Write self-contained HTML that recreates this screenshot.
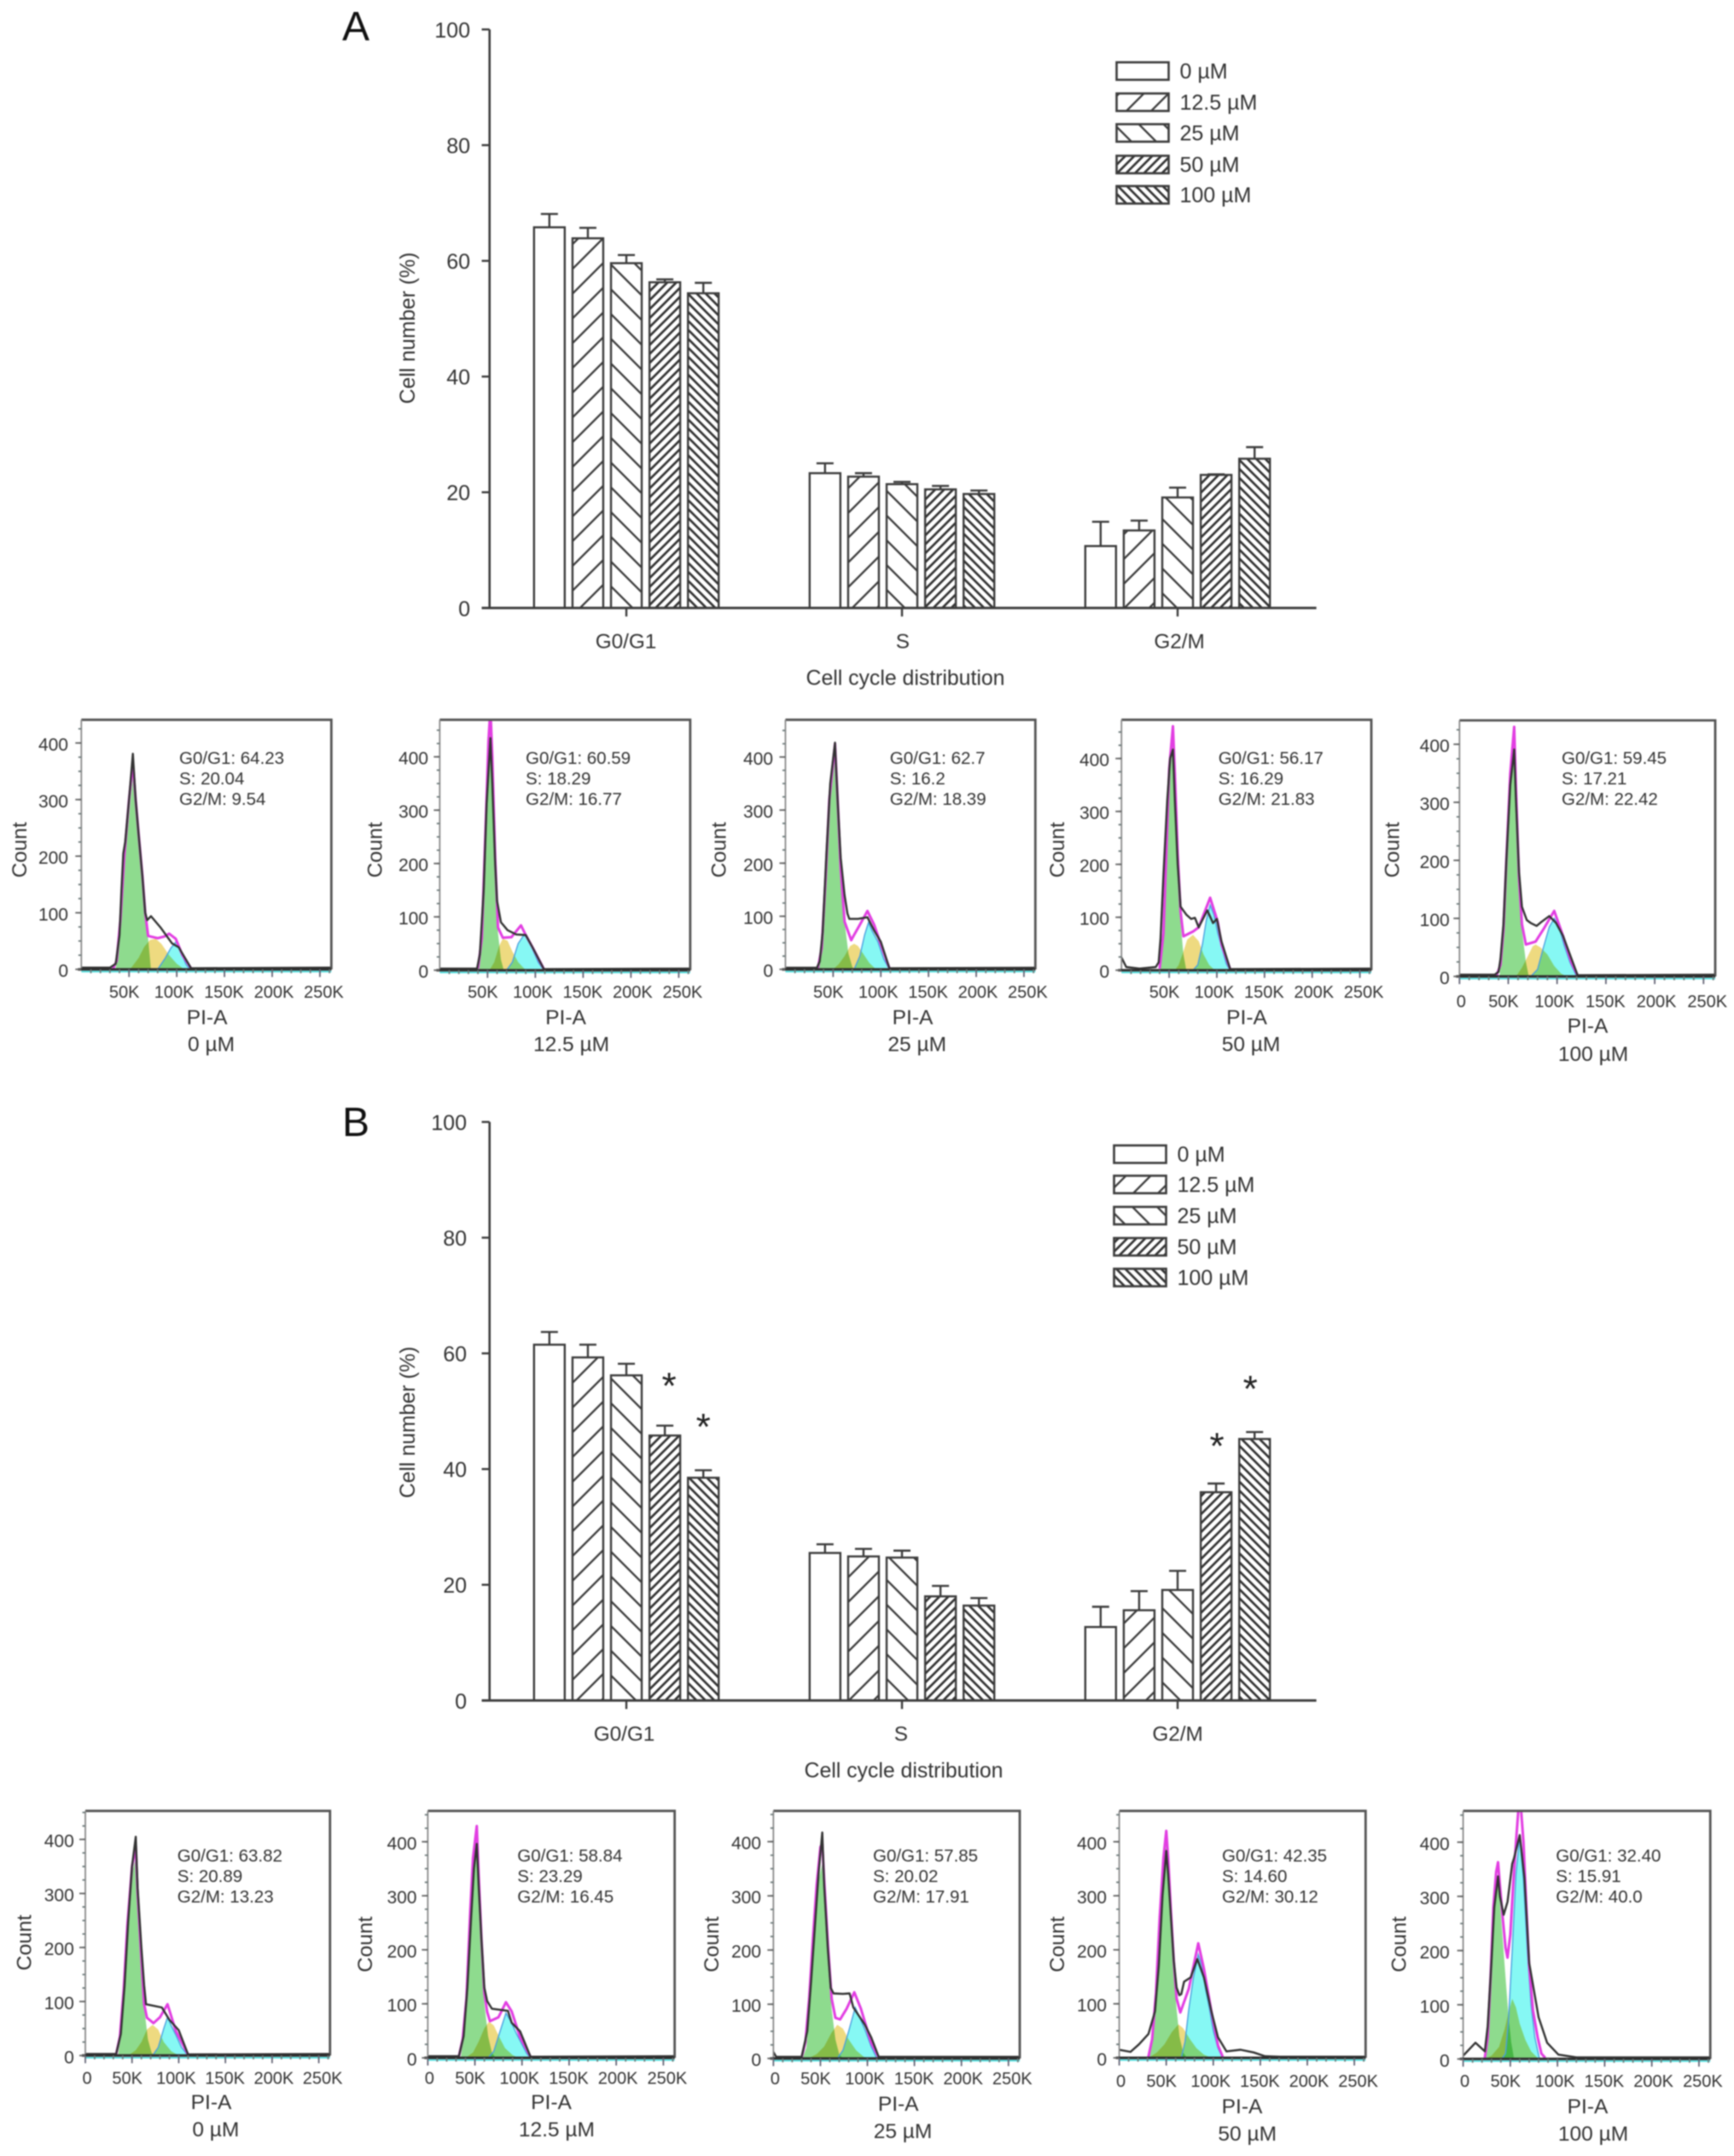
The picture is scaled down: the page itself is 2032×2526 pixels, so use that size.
<!DOCTYPE html>
<html lang="en">
<head>
<meta charset="utf-8">
<title>Cell cycle distribution</title>
<style>
html,body{margin:0;padding:0;background:#fff;}
#figure{display:block;width:2032px;height:2526px;filter:blur(0.85px);font-family:"Liberation Sans",Arial,sans-serif;}
text{fill:#333;font-family:"Liberation Sans",Arial,sans-serif;}
.blend{mix-blend-mode:multiply;}
</style>
</head>
<body>
<svg id="figure" xmlns="http://www.w3.org/2000/svg" width="2032" height="2526" viewBox="0 0 2032 2526">
<defs>
<pattern id="hatch-wide-up" patternUnits="userSpaceOnUse" width="29" height="29"><rect width="29" height="29" fill="#fff"/><path d="M-7,7 L7,-7 M0,29 L29,0 M22,36 L36,22" stroke="#3c3c3c" stroke-width="2.3" fill="none"/></pattern>
<pattern id="hatch-wide-down" patternUnits="userSpaceOnUse" width="29" height="29"><rect width="29" height="29" fill="#fff"/><path d="M-7,22 L7,36 M0,0 L29,29 M22,-7 L36,7" stroke="#3c3c3c" stroke-width="2.3" fill="none"/></pattern>
<pattern id="hatch-dense-up" patternUnits="userSpaceOnUse" width="10.5" height="10.5"><rect width="10.5" height="10.5" fill="#fff"/><path d="M-3,3 L3,-3 M0,10.5 L10.5,0 M7.5,13.5 L13.5,7.5" stroke="#333" stroke-width="2.7" fill="none"/></pattern>
<pattern id="hatch-dense-down" patternUnits="userSpaceOnUse" width="10.5" height="10.5"><rect width="10.5" height="10.5" fill="#fff"/><path d="M-3,7.5 L3,13.5 M0,0 L10.5,10.5 M7.5,-3 L13.5,3" stroke="#333" stroke-width="2.7" fill="none"/></pattern>
</defs>
</svg>
<script>
// ---------- Bar chart data ----------
const barCategories = ['G0/G1', 'S', 'G2/M'];
const barDoses = ['0 µM', '12.5 µM', '25 µM', '50 µM', '100 µM'];
const barYTicks = [0, 20, 40, 60, 80, 100];
const panelAMeans = [[65.8, 63.9, 59.6, 56.3, 54.4], [23.3, 22.7, 21.4, 20.5, 19.7], [10.7, 13.4, 19.1, 23.0, 25.8]];
const panelAUpper = [[68.1, 65.7, 61.0, 56.8, 56.2], [25.0, 23.3, 21.8, 21.1, 20.3], [14.9, 15.1, 20.8, 23.1, 27.8]];
const panelBMeans = [[61.5, 59.3, 56.2, 45.8, 38.5], [25.5, 24.9, 24.7, 18.0, 16.4], [12.7, 15.6, 19.1, 36.0, 45.2]];
const panelBUpper = [[63.7, 61.5, 58.2, 47.5, 39.8], [27.0, 26.2, 25.9, 19.8, 17.7], [16.2, 18.9, 22.4, 37.5, 46.4]];
const panelBStarGroups = [0, 0, 2, 2];
const panelBStarDoses = [3, 4, 3, 4];
const panelBStarValues = [55.3, 48.2, 44.9, 54.8];

// ---------- Histogram data: [PI-A in K, count] ----------
const histCountTicks = [0, 100, 200, 300, 400];
const histPiTicks = [0, 50, 100, 150, 200, 250];

const a0Observed = [[0,3],[30,3],[36,10],[40,60],[42,140],[44,205],[46,225],[50,300],[54,381],[57,300],[60,240],[64,165],[67,100],[69,87],[73,94],[83,74],[95,46],[102,39],[115,2],[262,3]];
const a0Fit = [[33,0],[37,15],[41,90],[45,200],[50,300],[54,365],[57,300],[60,240],[64,165],[67,100],[70,59],[80,55],[87,58],[92,63],[99,54],[106,25],[115,2]];
const a0G1 = [[36,0],[40,75],[45,195],[50,270],[54,345],[57,290],[60,236],[64,163],[68,91],[71,36],[73,0]];
const a0S = [[51,0],[60,20],[66,40],[72,52],[78,54],[84,45],[92,25],[100,10],[108,0]];
const a0G2 = [[80,0],[88,20],[94,38],[100,50],[105,28],[110,8],[114,0]];

const a1Observed = [[0,3],[39,3],[42,30],[46,150],[49,310],[53,435],[55,350],[58,200],[60,130],[64,90],[71,75],[80,67],[90,66],[97,43],[109,2],[262,3]];
const a1Fit = [[40,3],[44,60],[48,270],[51,430],[53,490],[55,400],[58,210],[61,80],[66,61],[75,62],[85,84],[90,66],[97,43],[109,2]];
const a1G1 = [[41,0],[45,60],[48,240],[51,420],[53,480],[55,380],[58,190],[61,70],[64,20],[67,0]];
const a1S = [[52,0],[57,15],[62,45],[66,59],[71,55],[76,35],[82,15],[90,0]];
const a1G2 = [[70,0],[76,15],[82,50],[88,66],[92,60],[97,40],[103,15],[109,0]];

const a2Observed = [[0,3],[33,3],[36,15],[39,70],[43,220],[47,350],[52,427],[55,310],[58,210],[62,140],[65,105],[67,95],[76,95],[86,98],[93,73],[100,52],[109,2],[262,3]];
const a2Fit = [[34,2],[38,40],[42,170],[46,320],[52,425],[55,310],[58,190],[62,90],[69,55],[72,65],[78,84],[86,110],[93,84],[100,47],[109,2]];
const a2G1 = [[35,0],[40,60],[44,220],[48,350],[52,410],[55,300],[58,190],[62,90],[66,30],[70,5],[72,0]];
const a2S = [[50,0],[56,10],[62,25],[68,44],[72,48],[76,44],[82,28],[88,12],[95,0]];
const a2G2 = [[72,0],[78,25],[83,65],[87,88],[91,72],[97,52],[103,20],[109,0]];

const a3Observed = [[0,24],[5,6],[19,3],[36,6],[39,15],[41,60],[44,180],[48,320],[51,400],[54,417],[56,320],[59,200],[62,120],[68,105],[73,97],[77,99],[81,81],[90,113],[96,89],[100,97],[105,54],[114,2],[262,3]];
const a3Fit = [[40,3],[44,70],[47,220],[50,380],[54,461],[56,370],[59,220],[62,110],[65,64],[75,73],[81,81],[93,137],[101,91],[105,48],[114,2]];
const a3G1 = [[41,0],[45,80],[48,240],[51,400],[54,455],[56,350],[59,200],[62,90],[65,30],[68,0]];
const a3S = [[56,0],[60,10],[64,30],[69,58],[75,67],[81,55],[86,30],[92,10],[98,0]];
const a3G2 = [[75,0],[80,10],[85,50],[89,95],[93,123],[97,105],[101,70],[105,45],[110,12],[114,0]];

const a4Observed = [[0,3],[36,3],[40,8],[42,30],[45,90],[48,200],[52,330],[56,391],[58,300],[61,180],[64,120],[69,97],[73,92],[79,87],[84,94],[92,104],[99,92],[106,70],[121,2],[262,3]];
const a4Fit = [[38,2],[42,20],[45,80],[48,200],[52,350],[56,430],[58,320],[61,170],[64,90],[68,55],[78,60],[87,84],[97,113],[106,70],[115,23],[121,2]];
const a4G1 = [[41,0],[45,75],[48,190],[52,340],[56,425],[58,310],[61,160],[64,80],[68,25],[71,0]];
const a4S = [[58,0],[64,15],[70,35],[75,52],[78,55],[83,50],[90,38],[97,18],[104,5],[110,0]];
const a4G2 = [[73,0],[80,12],[86,50],[92,85],[97,100],[102,85],[107,55],[113,25],[120,0]];

const b0Observed = [[0,3],[33,3],[38,40],[42,130],[46,250],[50,350],[54,405],[56,310],[60,200],[63,130],[65,95],[82,89],[90,66],[100,47],[110,2],[262,3]];
const b0Fit = [[33,2],[37,35],[41,120],[45,240],[50,350],[54,387],[56,300],[60,180],[63,95],[66,70],[73,60],[80,71],[88,95],[97,45],[110,2]];
const b0G1 = [[35,0],[40,80],[44,210],[48,320],[54,368],[56,290],[60,170],[63,90],[67,30],[71,5],[74,0]];
const b0S = [[46,0],[54,10],[60,25],[66,48],[72,57],[78,48],[84,25],[92,8],[100,0]];
const b0G2 = [[72,0],[78,15],[84,50],[88,71],[92,55],[97,38],[103,15],[110,0]];

const b1Observed = [[0,3],[33,3],[38,40],[42,130],[46,260],[49,350],[52,396],[54,320],[57,220],[60,130],[63,105],[68,91],[85,87],[89,65],[98,49],[109,2],[262,3]];
const b1Fit = [[33,2],[37,35],[41,110],[45,270],[48,370],[52,429],[54,340],[57,220],[60,120],[63,85],[66,68],[75,75],[83,103],[89,86],[98,38],[109,2]];
const b1G1 = [[35,0],[39,60],[43,190],[47,320],[52,400],[54,320],[57,200],[60,100],[64,40],[68,10],[72,0]];
const b1S = [[40,0],[48,10],[54,30],[60,55],[65,67],[70,60],[76,38],[82,18],[90,5],[96,0]];
const b1G2 = [[64,0],[70,12],[76,45],[83,83],[88,68],[94,45],[100,25],[105,8],[109,0]];

const b2Observed = [[0,12],[3,3],[30,3],[36,50],[40,140],[44,240],[48,340],[52,417],[54,320],[58,200],[61,130],[64,120],[74,119],[81,120],[85,94],[97,63],[104,39],[112,3],[262,3]];
const b2Fit = [[30,2],[34,30],[38,110],[42,220],[46,320],[50,390],[52,396],[54,330],[58,210],[62,110],[66,75],[71,72],[78,92],[86,122],[93,92],[104,29],[112,2]];
const b2G1 = [[31,0],[35,20],[39,100],[43,220],[47,320],[52,360],[54,310],[58,190],[62,90],[66,35],[70,8],[74,0]];
const b2S = [[37,0],[46,8],[54,22],[62,48],[68,62],[74,55],[80,35],[88,15],[96,3],[103,0]];
const b2G2 = [[68,0],[74,15],[80,50],[87,94],[92,75],[98,50],[104,22],[110,0]];

const b3Observed = [[0,15],[12,11],[21,25],[31,44],[38,86],[42,170],[46,300],[50,383],[52,340],[55,260],[58,180],[61,130],[64,116],[66,118],[69,141],[76,149],[83,183],[90,149],[98,86],[105,38],[114,12],[129,15],[143,10],[155,3],[171,2],[262,2]];
const b3Fit = [[31,2],[35,35],[39,120],[43,260],[47,370],[50,420],[52,370],[55,270],[58,180],[61,110],[65,84],[74,128],[84,212],[90,165],[98,86],[105,23],[110,2]];
const b3G1 = [[32,0],[36,35],[40,130],[44,270],[47,360],[50,395],[52,350],[55,250],[58,160],[61,90],[64,40],[68,10],[72,0]];
const b3S = [[31,0],[40,10],[48,25],[56,48],[63,62],[68,55],[75,35],[82,18],[90,6],[98,0]];
const b3G2 = [[66,0],[70,30],[74,90],[79,150],[84,191],[88,170],[92,125],[96,90],[100,50],[105,18],[110,0]];

const b4Observed = [[0,6],[13,30],[23,14],[26,60],[30,180],[33,280],[37,337],[39,300],[43,266],[47,290],[52,360],[54,371],[60,413],[65,334],[70,177],[80,77],[89,30],[101,8],[120,3],[262,3]];
const b4Fit = [[23,2],[26,40],[29,150],[32,280],[35,345],[37,363],[39,320],[42,260],[45,205],[47,187],[50,230],[53,320],[56,400],[59,470],[61,470],[64,400],[67,280],[70,170],[74,90],[79,40],[83,10],[87,2]];
const b4G1 = [[22,0],[26,30],[30,170],[33,280],[37,335],[39,290],[42,220],[45,150],[48,80],[51,30],[54,0]];
const b4S = [[23,0],[30,6],[38,22],[44,55],[48,85],[52,111],[56,95],[60,65],[66,35],[72,14],[80,0]];
const b4G2 = [[41,0],[45,10],[48,70],[52,200],[56,340],[60,413],[64,330],[68,200],[72,100],[76,40],[81,0]];

// ---------- Helpers ----------
const svg = document.getElementById('figure');
const NS = 'http://www.w3.org/2000/svg';
function mk(tag, attrs, parent, txt) {
  const e = document.createElementNS(NS, tag);
  for (const k in attrs) e.setAttribute(k, attrs[k]);
  if (txt !== undefined) e.textContent = txt;
  parent.appendChild(e);
  return e;
}
function slug(s) { return s.toLowerCase().replace(/µ/g, 'u').replace(/[^a-z0-9]+/g, '-'); }

// ---------- Bar chart ----------
const barPatterns = ['#fff', 'url(#hatch-wide-up)', 'url(#hatch-wide-down)', 'url(#hatch-dense-up)', 'url(#hatch-dense-down)'];
function drawBarChart(cfg) {
  const root = mk('g', {}, svg);
  
  
  const yBar = v => cfg.y0 - v * (cfg.y0 - cfg.y100) / 100;
  const xBar = (g, d) => 625.8 + g * 323 + d * 45.1;
  const barW = 36;

  const letter = mk('text', { x: cfg.letterX, y: cfg.letterY, 'font-size': 48, style: 'fill:#111' }, root, cfg.id.toUpperCase());
  
  

  // bars first so axis overlays their base
  cfg.means.forEach((row, g) => row.forEach((v, d) => {
    const cat = slug(barCategories[g]);
    const x = xBar(g, d), c = x + barW / 2;
    const err = mk('path', { d: `M${c},${yBar(v)}V${yBar(cfg.upper[g][d])}M${c - 10},${yBar(cfg.upper[g][d])}H${c + 10}`, stroke: '#3c3c3c', 'stroke-width': 2.4, fill: 'none' }, root);
    
    
    const bar = mk('rect', { x: x, y: yBar(v), width: barW, height: yBar(0) - yBar(v), fill: barPatterns[d], stroke: '#3c3c3c', 'stroke-width': 2.4 }, root);
    
    
  }));

  const yAxis = mk('line', { x1: 573.7, x2: 573.7, y1: yBar(100), y2: yBar(0), stroke: '#3c3c3c', 'stroke-width': 2.6 }, root);
  
  
  const xAxis = mk('line', { x1: 564.5, x2: 1542.6, y1: yBar(0), y2: yBar(0), stroke: '#3c3c3c', 'stroke-width': 2.8 }, root);
  
  

  barYTicks.forEach(t => {
    const tick = mk('line', { x1: 564.5, x2: 573.7, y1: yBar(t), y2: yBar(t), stroke: '#3c3c3c', 'stroke-width': 2.4 }, root);
    
    
    const lab = mk('text', { x: cfg.tickRight, y: yBar(t) + 9.5, 'font-size': 25, 'text-anchor': 'end' }, root, String(t));
    
    
  });
  barCategories.forEach((cat, g) => {
    const c = xBar(g, 2) + barW / 2;
    const tick = mk('line', { x1: c, x2: c, y1: yBar(0), y2: yBar(0) + 10, stroke: '#3c3c3c', 'stroke-width': 2.4 }, root);
    
    
    const lab = mk('text', { x: c - 0.5 + cfg.catShift + g * 1.3, y: yBar(0) + 47, 'font-size': 24.3, 'text-anchor': 'middle' }, root, cat);
    
    
  });
  const xt = mk('text', { x: 1060 + cfg.catShift + 1, y: yBar(0) + 90, 'font-size': 24.8, 'text-anchor': 'middle' }, root, 'Cell cycle distribution');
  
  
  const cy = (yBar(0) + yBar(100)) / 2 + cfg.yTitleShift;
  const yt = mk('text', { transform: `translate(486,${cy}) rotate(-90)`, 'font-size': 24.6, 'text-anchor': 'middle' }, root, 'Cell number (%)');
  
  

  barDoses.forEach((dose, d) => {
    const sw = mk('rect', { x: cfg.legendX, y: cfg.legendYs[d], width: 61, height: 20.5, fill: barPatterns[d], stroke: '#3c3c3c', 'stroke-width': 2.6 }, root);
    
    
    const lab = mk('text', { x: cfg.legendX + 74, y: cfg.legendYs[d] + 19, 'font-size': 25 }, root, dose);
    
    
  });

  if (cfg.starValues) cfg.starValues.forEach((v, i) => {
    const c = xBar(cfg.starGroups[i], cfg.starDoses[i]) + barW / 2;
    const nudge = cfg.starDoses[i] === 3 ? (cfg.starGroups[i] === 0 ? 5 : 1) : (cfg.starGroups[i] === 2 ? -5 : 0);
    const star = mk('text', { x: c + nudge, y: yBar(v) + 21, 'font-size': 44, 'text-anchor': 'middle', style: 'fill:#222' }, root, '*');
    
    
  });
}

drawBarChart({ id: 'a', y100: 34.5, y0: 712.3, means: panelAMeans, upper: panelAUpper, letterX: 401, letterY: 47, tickRight: 551, catShift: 0, yTitleShift: 11, legendX: 1308.5, legendYs: [73, 109.5, 145.5, 182.5, 218] });
drawBarChart({ id: 'b', y100: 1314.5, y0: 1992.3, means: panelBMeans, upper: panelBUpper, letterX: 401, letterY: 1331, tickRight: 547, catShift: -2, yTitleShift: 13, legendX: 1305.5, legendYs: [1342, 1377.5, 1414, 1450.5, 1486.5], starValues: panelBStarValues, starGroups: panelBStarGroups, starDoses: panelBStarDoses });

// ---------- Histograms ----------
const histPanels = [
  { id: 'a0', dose: '0 µM', l: 95.3, r: 388.3, t: 843.3, base: 1135.7, per100: 66.3, statX: 210, statY: 895, yRight: 80, countX: 22.5, countY: 995.7, labelY: 1162, piX: 242.6, piY: 1200, doseX: 247.5, doseY: 1231.7, zero: false, stats: ['G0/G1: 64.23', 'S: 20.04', 'G2/M: 9.54'], obs: a0Observed, fit: a0Fit, g1: a0G1, s: a0S, g2: a0G2 },
  { id: 'a1', dose: '12.5 µM', l: 515.3, r: 808.8, t: 843.3, base: 1136.7, per100: 62.5, statX: 616, statY: 895, yRight: 502, countX: 439, countY: 995.7, labelY: 1162, piX: 663, piY: 1200, doseX: 669.5, doseY: 1231.7, zero: false, stats: ['G0/G1: 60.59', 'S: 18.29', 'G2/M: 16.77'], obs: a1Observed, fit: a1Fit, g1: a1G1, s: a1S, g2: a1G2 },
  { id: 'a2', dose: '25 µM', l: 920.4, r: 1213.3, t: 843.3, base: 1135.7, per100: 62.2, statX: 1042.8, statY: 895, yRight: 906, countX: 842, countY: 995.7, labelY: 1162, piX: 1069.5, piY: 1200, doseX: 1074.7, doseY: 1231.7, zero: false, stats: ['G0/G1: 62.7', 'S: 16.2', 'G2/M: 18.39'], obs: a2Observed, fit: a2Fit, g1: a2G1, s: a2S, g2: a2G2 },
  { id: 'a3', dose: '50 µM', l: 1314.2, r: 1607, t: 843.3, base: 1136.7, per100: 62, statX: 1427.7, statY: 895, yRight: 1300, countX: 1238.4, countY: 995.7, labelY: 1162, piX: 1461, piY: 1200, doseX: 1466, doseY: 1231.7, zero: false, stats: ['G0/G1: 56.17', 'S: 16.29', 'G2/M: 21.83'], obs: a3Observed, fit: a3Fit, g1: a3G1, s: a3S, g2: a3G2 },
  { id: 'a4', dose: '100 µM', l: 1710.3, r: 2010, t: 844, base: 1144, per100: 68, statX: 1830, statY: 895, yRight: 1698.7, countX: 1630.8, countY: 995.7, labelY: 1173, piX: 1860.5, piY: 1210, doseX: 1867, doseY: 1243, zero: true, stats: ['G0/G1: 59.45', 'S: 17.21', 'G2/M: 22.42'], obs: a4Observed, fit: a4Fit, g1: a4G1, s: a4S, g2: a4G2 },
  { id: 'b0', dose: '0 µM', l: 100, r: 386.7, t: 2121.7, base: 2408.3, per100: 63.3, statX: 207.8, statY: 2181, yRight: 86.8, countX: 27.9, countY: 2276, labelY: 2434.3, piX: 247.5, piY: 2471, doseX: 252.8, doseY: 2503, zero: true, stats: ['G0/G1: 63.82', 'S: 20.89', 'G2/M: 13.23'], obs: b0Observed, fit: b0Fit, g1: b0G1, s: b0S, g2: b0G2 },
  { id: 'b1', dose: '12.5 µM', l: 501.3, r: 790.6, t: 2121.7, base: 2411, per100: 63.3, statX: 606.3, statY: 2181, yRight: 488.5, countX: 427.4, countY: 2278, labelY: 2434.3, piX: 646, piY: 2471, doseX: 652.4, doseY: 2503, zero: true, stats: ['G0/G1: 58.84', 'S: 23.29', 'G2/M: 16.45'], obs: b1Observed, fit: b1Fit, g1: b1G1, s: b1S, g2: b1G2 },
  { id: 'b2', dose: '25 µM', l: 906.3, r: 1195, t: 2121.7, base: 2411.7, per100: 63.5, statX: 1023, statY: 2181, yRight: 892, countX: 833.6, countY: 2278, labelY: 2435, piX: 1052.7, piY: 2473, doseX: 1058, doseY: 2505, zero: true, stats: ['G0/G1: 57.85', 'S: 20.02', 'G2/M: 17.91'], obs: b2Observed, fit: b2Fit, g1: b2G1, s: b2S, g2: b2G2 },
  { id: 'b3', dose: '50 µM', l: 1311.6, r: 1600.3, t: 2121.7, base: 2411, per100: 63.3, statX: 1432, statY: 2181, yRight: 1297, countX: 1238.4, countY: 2278, labelY: 2438, piX: 1455.5, piY: 2476, doseX: 1461.7, doseY: 2508, zero: true, stats: ['G0/G1: 42.35', 'S: 14.60', 'G2/M: 30.12'], obs: b3Observed, fit: b3Fit, g1: b3G1, s: b3S, g2: b3G2 },
  { id: 'b4', dose: '100 µM', l: 1714.6, r: 2004.2, t: 2121.7, base: 2412.3, per100: 63.5, statX: 1823.3, statY: 2181, yRight: 1698.7, countX: 1639, countY: 2278, labelY: 2438, piX: 1860.5, piY: 2476, doseX: 1867, doseY: 2508, zero: true, stats: ['G0/G1: 32.40', 'S: 15.91', 'G2/M: 40.0'], obs: b4Observed, fit: b4Fit, g1: b4G1, s: b4S, g2: b4G2 }
];

const defsEl = svg.querySelector('defs');
histPanels.forEach(p => {
  const xH = k => p.l + k * (p.r - p.l) / 262;
  const yH = c => p.base - c * p.per100 / 100;
  const ptStr = arr => arr.map(q => xH(q[0]).toFixed(1) + ',' + yH(q[1]).toFixed(1)).join(' ');

  const root = mk('g', {}, svg);
  
  

  const clip = mk('clipPath', { id: 'clip-' + p.id }, defsEl);
  mk('rect', { x: p.l, y: p.t, width: p.r - p.l, height: p.base - p.t + 3 }, clip);

  const marks = mk('g', { 'clip-path': `url(#clip-${p.id})` }, root);
  
  

  const g1 = mk('polygon', { points: ptStr(p.g1), fill: '#8edb8e', class: 'blend' }, marks);
  
  
  const sp = mk('polygon', { points: ptStr(p.s), fill: '#eeda80', class: 'blend' }, marks);
  
  
  const g2 = mk('polygon', { points: ptStr(p.g2), fill: '#86f8f4', class: 'blend' }, marks);
  
  
  const g2Edge = mk('polyline', { points: ptStr(p.g2), fill: 'none', stroke: '#4aa0e0', 'stroke-width': 1.4 }, marks);
  
  
  const fit = mk('polyline', { points: ptStr(p.fit), fill: 'none', stroke: '#e23ee2', 'stroke-width': 3, 'stroke-linejoin': 'round' }, marks);
  
  
  const obs = mk('polyline', { points: ptStr(p.obs), fill: 'none', stroke: '#333', 'stroke-width': 2.4, 'stroke-linejoin': 'round' }, marks);
  
  

  const frame = mk('path', { d: `M${p.l},${p.t}H${p.r}V${p.base}`, fill: 'none', stroke: '#555', 'stroke-width': 2.8 }, root);
  
  
  const leftAxis = mk('line', { x1: p.l, x2: p.l, y1: p.t, y2: p.base, stroke: '#8a8a8a', 'stroke-width': 1.8 }, root);
  
  
  const cyanLine = mk('line', { x1: p.l, x2: p.r, y1: p.base + 2.6, y2: p.base + 2.6, stroke: '#4fe0e0', 'stroke-width': 1.8 }, root);
  
  
  const baseLine = mk('line', { x1: p.l - 4, x2: p.r, y1: p.base, y2: p.base, stroke: '#2e2e2e', 'stroke-width': 3 }, root);
  
  

  // minor / major ticks
  let minorPath = '';
  for (let c = 25; yH(c) > p.t; c += 25) minorPath += `M${p.l - 3.5},${yH(c).toFixed(1)}H${p.l}`;
  for (let k = 10; k <= 260; k += 10) minorPath += `M${xH(k).toFixed(1)},${p.base}v4.5`;
  const minor = mk('path', { d: minorPath, stroke: '#6f7c7c', 'stroke-width': 1.8, fill: 'none' }, root);
  
  

  histCountTicks.forEach(c => {
    const tk = mk('line', { x1: p.l - 7, x2: p.l, y1: yH(c), y2: yH(c), stroke: '#666', 'stroke-width': 1.8 }, root);
    
    
    const lab = mk('text', { x: p.yRight, y: yH(c) + 9, 'font-size': 21, 'text-anchor': 'end' }, root, String(c));
    
    
  });
  histPiTicks.forEach(k => {
    if (k === 0 && !p.zero) return;
    const tk = mk('line', { x1: xH(k), x2: xH(k), y1: p.base, y2: p.base + 9, stroke: '#667', 'stroke-width': 1.8 }, root);
    
    
    const cx = k === 0 ? xH(0) + 2 : xH(k) - 8 + k * 0.05;
    const lab = mk('text', { x: cx, y: p.labelY + 7, 'font-size': 20, 'text-anchor': 'middle' }, root, k === 0 ? '0' : k + 'K');
    
    
  });

  p.stats.forEach((line, i) => {
    const st = mk('text', { x: p.statX, y: p.statY + i * 24, 'font-size': 20.5 }, root, line);
    
    
  });

  const cnt = mk('text', { transform: `translate(${p.countX + 8.5},${p.countY}) rotate(-90)`, 'font-size': 24.5, 'text-anchor': 'middle' }, root, 'Count');
  
  
  const pi = mk('text', { x: p.piX, y: p.piY, 'font-size': 24.5, 'text-anchor': 'middle' }, root, 'PI-A');
  
  
  const dose = mk('text', { x: p.doseX, y: p.doseY, 'font-size': 24.5, 'text-anchor': 'middle' }, root, p.dose);
  
  
});
</script>
</body>
</html>
